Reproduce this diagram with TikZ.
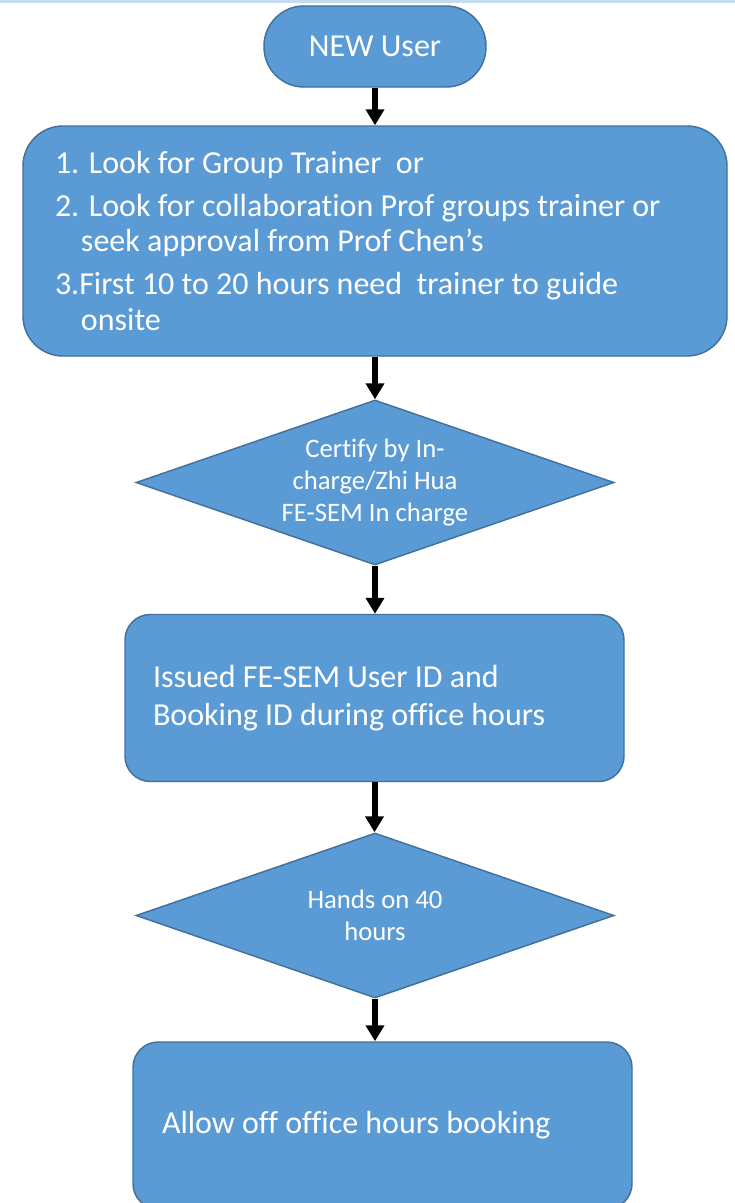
\documentclass[tikz,border=0pt]{standalone}
\usepackage{fontspec}
\setmainfont[Ligatures=NoCommon]{Carlito}
\usetikzlibrary{shapes.geometric,arrows.meta}
\definecolor{boxfill}{RGB}{91,155,213}
\definecolor{boxline}{RGB}{65,113,156}
\definecolor{topline}{RGB}{197,220,240}
\newcommand\fontspaces{\spaceskip=0pt\relax\xspaceskip=0pt\relax}
\begin{document}
\begin{tikzpicture}[x=0.75pt,y=-0.75pt,
  base/.style={draw=boxline,line width=1.1pt,fill=boxfill,text=white},
  terminal/.style={base,rectangle,rounded corners=30pt,minimum width=166.5pt,minimum height=60.75pt,inner sep=0pt,font=\fontsize{24}{28}\selectfont},
  procbox/.style={base,rectangle,inner ysep=0pt,align=left},
  decision/.style={base,diamond,inner sep=0pt,aspect=2.9,minimum width=358.5pt,minimum height=123.75pt,align=center,font=\fontsize{20}{24}\selectfont},
  flowarrow/.style={line width=4.5pt,-{Triangle[width=13.5pt,length=12pt]}}]
\useasboundingbox (0,0) rectangle (735,1203);
\clip (0,0) rectangle (735,1203);
\fill[white] (0,0) rectangle (735,1203);
\fill[topline] (0,0) rectangle (735,2.5);

\node[terminal] (start) at (375,46.5) {NEW User};

\node[procbox,rounded corners=30pt,minimum width=528pt,minimum height=172.5pt,inner xsep=24pt,text width=480pt,font=\fontsize{24}{26.6}\selectfont] (b1) at (375,241)
 {\fontspaces 1. Look for Group Trainer\ \ or\\[5.5pt]
 2. Look for collaboration Prof groups trainer or\\
 \hspace*{19.5pt}seek approval from Prof Chen’s\\[5.5pt]
 3.First 10 to 20 hours need\ \ trainer to guide\\
 \hspace*{19.5pt}onsite};

\node[decision] (d1) at (375,482.5) {Certify by In-\\charge/Zhi Hua\\FE-SEM In charge};

\node[procbox,rounded corners=19pt,minimum width=374.25pt,minimum height=125.25pt,inner xsep=21pt,text width=332.25pt,font=\fontsize{24}{28.5}\selectfont] (b2) at (374.5,698)
 {\fontspaces Issued FE-SEM User ID and\\Booking ID during office hours};

\node[decision] (d2) at (375,915.5) {Hands on 40\\hours};

\node[procbox,rounded corners=19pt,minimum width=374.25pt,minimum height=125.25pt,inner xsep=21.75pt,text width=330.75pt,font=\fontsize{24}{28.5}\selectfont] (b3) at (382.5,1125.5)
 {\fontspaces Allow off office hours booking};

\draw[flowarrow] (start.south) -- (start.south |- b1.north);
\draw[flowarrow] (b1.south) -- (b1.south |- d1.north);
\draw[flowarrow] (d1.south) -- (d1.south |- b2.north);
\draw[flowarrow] (b2.south) -- (b2.south |- d2.north);
\draw[flowarrow] (d2.south) -- (d2.south |- b3.north);
\end{tikzpicture}
\end{document}
